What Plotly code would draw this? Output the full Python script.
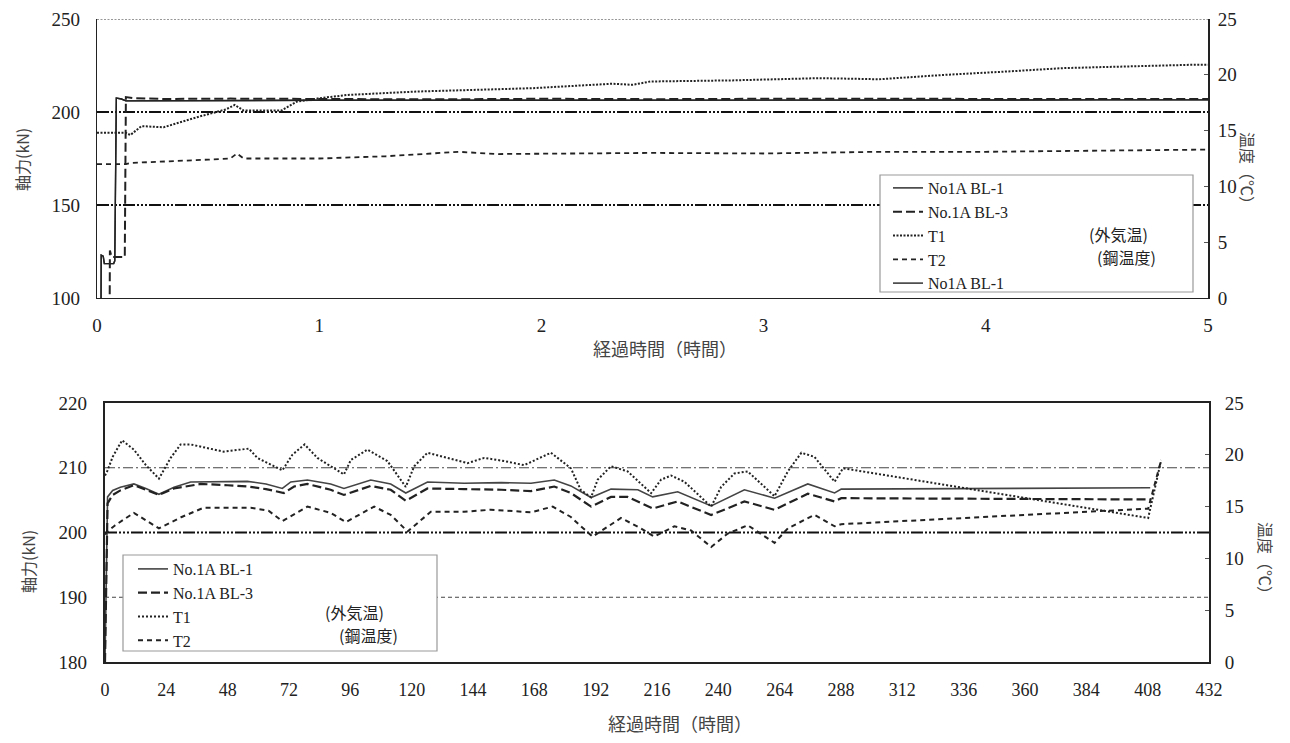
import plotly.graph_objects as go

# ---------------- data: top chart (0-5 h) ----------------
top_t_bl1 = [0.018, 0.019, 0.028, 0.033, 0.075, 0.080, 0.087, 0.11, 0.13, 0.5, 1.0, 1.5, 2.0, 2.5, 3.0, 3.5, 4.0, 4.5, 5.0]
top_bl1 = [95, 123, 122.5, 118.5, 118.5, 120, 207.5, 207.0, 206.0, 206.2, 206.3, 206.3, 206.4, 206.3, 206.4, 206.5, 206.4, 206.5, 206.5]

top_t_bl3 = [0.057, 0.058, 0.066, 0.125, 0.130, 0.16, 0.3, 0.6, 1.0, 1.5, 2.0, 2.5, 3.0, 3.5, 4.0, 4.5, 5.0]
top_bl3 = [95, 125.5, 122, 122, 208, 207.5, 207.0, 207.2, 207.0, 206.8, 207.1, 206.9, 207.1, 207.0, 206.9, 207.0, 207.0]

top_t_t1 = [0, 0.13, 0.15, 0.2, 0.3, 0.45, 0.58, 0.62, 0.66, 0.83, 0.9, 1.0, 1.13, 1.44, 1.96, 2.32, 2.41, 2.49, 2.86, 3.25, 3.52, 3.82, 4.1, 4.35, 4.93, 5.0]
top_t1 = [14.8, 14.8, 14.6, 15.4, 15.3, 16.2, 16.9, 17.3, 16.8, 16.8, 17.6, 17.9, 18.2, 18.5, 18.8, 19.2, 19.1, 19.4, 19.5, 19.7, 19.6, 20.0, 20.3, 20.6, 20.9, 20.9]

top_t_t2 = [0, 0.13, 0.15, 0.3, 0.5, 0.6, 0.63, 0.66, 0.8, 1.0, 1.3, 1.63, 1.8, 2.2, 2.5, 3.0, 3.25, 3.52, 4.0, 4.5, 5.0]
top_t2 = [12.0, 12.0, 12.1, 12.2, 12.4, 12.5, 12.95, 12.5, 12.5, 12.5, 12.7, 13.1, 12.9, 12.95, 13.0, 12.95, 13.0, 13.1, 13.1, 13.2, 13.3]

# ---------------- data: bottom chart (0-432 h) ----------------
bot_t_bl1 = [0, 1, 3, 6, 11.3, 16, 21.1, 27, 33.5, 45, 55.7, 63, 69.4, 72.7, 79.2, 88.3, 93.5, 104, 111.8, 117.7,
             126.2, 140.5, 155, 166.7, 175.8, 182.3, 190.2, 198, 208.5, 214.3, 224.1, 237.2, 250.2, 262, 275, 285.5, 288.1, 409]
bot_bl1 = [180, 205.5, 206.5, 207.0, 207.5, 206.8, 205.9, 207.0, 207.8, 207.9, 207.9, 207.5, 206.8, 207.8, 208.1, 207.5, 206.8, 208.1, 207.5, 206.1,
           207.8, 207.6, 207.7, 207.6, 208.1, 207.2, 205.4, 206.7, 206.6, 205.5, 206.3, 204.1, 206.6, 205.3, 207.5, 206.1, 206.7, 206.9]

bot_t_bl3 = [0, 1, 3, 6, 11.3, 16, 21.1, 27, 37.4, 48, 55.7, 63, 70, 74, 79.2, 88.3, 93.5, 104, 111.8, 117.7,
             126.2, 140.5, 155, 166.7, 175.8, 182.3, 190.2, 198, 204.5, 214.3, 224.1, 237.2, 250.2, 262, 275, 285.5, 288.1, 409]
bot_bl3 = [180, 204.5, 205.8, 206.5, 207.3, 206.6, 205.8, 206.8, 207.5, 207.3, 207.1, 206.7, 206.1, 207.1, 207.5, 206.6, 205.8, 207.2, 206.6, 204.9,
           206.8, 206.7, 206.6, 206.4, 207.1, 206.1, 204.0, 205.5, 205.5, 203.7, 204.8, 202.7, 204.8, 203.5, 206.0, 204.8, 205.3, 205.1]

bot_t_t1 = [0, 1, 3, 6.7, 11.3, 16, 21.1, 25.7, 29.6, 33.5, 46.5, 56.3, 59.6, 69.4, 73.3, 78.1, 83.1, 88.3, 93.5, 96.2,
            102.7, 110.5, 117.7, 121, 126.2, 134, 141.9, 148.4, 156.2, 164, 174.5, 182.3, 186.2, 190.2, 192.8, 198, 204.5, 213.7,
            217.6, 221.5, 226.7, 237.2, 241.1, 246.3, 251.5, 262, 267.2, 272.5, 277.6, 285.5, 288.8, 408.2, 413.3]
bot_t1 = [18.0, 18.5, 19.8, 21.4, 20.5, 19.0, 17.7, 19.7, 21.0, 21.0, 20.3, 20.6, 19.7, 18.5, 20.0, 21.0, 19.7, 18.9, 18.1, 19.5,
          20.5, 19.4, 16.9, 18.9, 20.2, 19.7, 19.2, 19.7, 19.4, 19.0, 20.2, 18.7, 16.6, 15.9, 17.6, 18.9, 18.4, 16.3,
          17.6, 18.0, 17.4, 15.0, 16.9, 18.2, 18.4, 16.0, 18.4, 20.2, 19.8, 17.4, 18.7, 13.9, 19.5]

bot_t_t2 = [0, 1, 4, 11.3, 21.1, 30, 38.7, 57, 64, 69.4, 79.2, 88.3, 94.2, 105.3, 111.8, 118.4, 127.5, 140.5, 151, 166.7,
            175.2, 182.3, 186.2, 190.8, 201.9, 209.7, 214.9, 222.8, 229.3, 237.2, 243.7, 251.5, 262, 267.2, 277.6, 285.5, 288.1, 408.2, 413.3]
bot_t2 = [12.3, 12.6, 13.2, 14.4, 12.9, 14.0, 14.9, 14.9, 14.6, 13.6, 15.0, 14.4, 13.5, 15.0, 14.2, 12.6, 14.5, 14.5, 14.7, 14.45,
          15.0, 14.0, 13.1, 12.1, 13.9, 12.9, 12.1, 13.1, 12.7, 11.1, 12.4, 13.2, 11.5, 12.9, 14.2, 13.1, 13.3, 14.8, 19.5]

# labels
top_names = ["No1A BL-1", "No.1A BL-3", "T1", "T2", "No1A BL-1"]
bot_names = ["No.1A BL-1", "No.1A BL-3", "T1", "T2"]
note_labels = ["(外気温)", "(鋼温度)"]
x_title = "経過時間（時間）"
y_left_title = "軸力(kN)"
y_right_title = "温度（℃）"
top_grid_levels = [150, 200, 250]
bot_grid_levels = [190, 200, 210]

# ---------------- styling ----------------
W, H = 1290, 743
OFF = 8  # page body margin offset
SERIF = "Liberation Serif, Times New Roman, serif"
CJK = "Noto Sans CJK JP"
DDOT = "12px,2px,2px,2px,2px,2px,2px,2px"
top_grid_styles = [dict(dash=DDOT, width=2.2, color="#111"),
                   dict(dash=DDOT, width=2.2, color="#111"),
                   dict(dash="2px,1.5px", width=1.2, color="#333")]
bot_grid_styles = [dict(dash="4px,3px", width=1, color="#444"),
                   dict(dash=DDOT, width=2.2, color="#111"),
                   dict(dash="10px,3px,2px,3px", width=1, color="#444")]


def px(x):
    return (x - OFF) / W


def py(y):
    return 1 - (y - OFF) / H


fig = go.Figure()

# top chart traces
fig.add_trace(go.Scatter(x=top_t_bl1, y=top_bl1, name=top_names[0], mode="lines",
                         line=dict(color="#222", width=1.4), xaxis="x", yaxis="y", legend="legend"))
fig.add_trace(go.Scatter(x=top_t_bl3, y=top_bl3, name=top_names[1], mode="lines",
                         line=dict(color="#222", width=2, dash="9px,4px"), xaxis="x", yaxis="y", legend="legend"))
fig.add_trace(go.Scatter(x=top_t_t1, y=top_t1, name=top_names[2], mode="lines",
                         line=dict(color="#222", width=2, dash="2px,1.5px"), xaxis="x", yaxis="y2", legend="legend"))
fig.add_trace(go.Scatter(x=top_t_t2, y=top_t2, name=top_names[3], mode="lines",
                         line=dict(color="#222", width=1.8, dash="5px,4px"), xaxis="x", yaxis="y2", legend="legend"))
fig.add_trace(go.Scatter(x=top_t_bl1, y=top_bl1, name=top_names[4], mode="lines",
                         line=dict(color="#222", width=1.4), xaxis="x", yaxis="y", legend="legend"))

# bottom chart traces
fig.add_trace(go.Scatter(x=bot_t_bl1, y=bot_bl1, name=bot_names[0], mode="lines",
                         line=dict(color="#444", width=1.6), xaxis="x2", yaxis="y3", legend="legend2"))
fig.add_trace(go.Scatter(x=bot_t_bl3, y=bot_bl3, name=bot_names[1], mode="lines",
                         line=dict(color="#222", width=2.2, dash="9px,4px"), xaxis="x2", yaxis="y3", legend="legend2"))
fig.add_trace(go.Scatter(x=bot_t_t1, y=bot_t1, name=bot_names[2], mode="lines",
                         line=dict(color="#222", width=2, dash="2px,2px"), xaxis="x2", yaxis="y4", legend="legend2"))
fig.add_trace(go.Scatter(x=bot_t_t2, y=bot_t2, name=bot_names[3], mode="lines",
                         line=dict(color="#222", width=2, dash="5px,4px"), xaxis="x2", yaxis="y4", legend="legend2"))

shapes = []
for lvl, st in zip(top_grid_levels, top_grid_styles):
    shapes.append(dict(type="line", xref="x domain", yref="y", x0=0, x1=1, y0=lvl, y1=lvl,
                       line=st, layer="below"))
for lvl, st in zip(bot_grid_levels, bot_grid_styles):
    shapes.append(dict(type="line", xref="x2 domain", yref="y3", x0=0, x1=1, y0=lvl, y1=lvl,
                       line=st, layer="below"))
# legend boxes
shapes.append(dict(type="rect", xref="paper", yref="paper", x0=px(880), x1=px(1193), y0=py(292), y1=py(175),
                   line=dict(color="#999", width=1.2), fillcolor="white", layer="below"))
shapes.append(dict(type="rect", xref="paper", yref="paper", x0=px(123), x1=px(437), y0=py(651), y1=py(555),
                   line=dict(color="#999", width=1.2), fillcolor="white", layer="below"))

tickfont = dict(family=SERIF, size=19, color="#222")
axis_common = dict(showgrid=False, zeroline=False, showline=True, linecolor="#222", automargin=False)


def note(text, x, y, size, color, angle=0):
    return dict(text=text, x=px(x), y=py(y), xref="paper", yref="paper", showarrow=False,
                xanchor="center", yanchor="middle", textangle=angle,
                font=dict(family=CJK, size=size, color=color))


annotations = [
    note(x_title, 665, 348, 18, "#444"),
    note(x_title, 680, 723, 18, "#444"),
    note(y_left_title, 22, 160, 16, "#444", -90),
    note(y_left_title, 28, 562, 16, "#444", -90),
    note(y_right_title, 1248, 172, 16, "#444", 90),
    note(y_right_title, 1266, 562, 16, "#444", 90),
    note(note_labels[0], 1118, 234, 16, "#222"),
    note(note_labels[1], 1126, 257, 16, "#222"),
    note(note_labels[0], 354, 612, 16, "#222"),
    note(note_labels[1], 369, 635, 16, "#222"),
]

fig.update_layout(
    width=W, height=H,
    margin=dict(l=0, r=0, t=0, b=0),
    paper_bgcolor="white", plot_bgcolor="white",
    showlegend=True,
    xaxis=dict(domain=[px(97), px(1208)], anchor="y", range=[0, 5], dtick=1, linewidth=1.3,
               ticks="", ticklabelstandoff=10, tickfont=tickfont, **axis_common),
    yaxis=dict(domain=[py(298), py(19)], anchor="x", range=[100, 250], dtick=50, linewidth=1.3,
               ticks="", ticklabelstandoff=12, tickfont=tickfont, **axis_common),
    yaxis2=dict(overlaying="y", side="right", anchor="x", range=[0, 25], dtick=5, linewidth=2,
                ticks="inside", ticklen=4, tickcolor="#555", ticklabelstandoff=4, tickfont=tickfont, **axis_common),
    xaxis2=dict(domain=[px(105), px(1209)], anchor="y3", range=[0, 432], dtick=24, linewidth=2, mirror=True,
                ticks="", ticklabelstandoff=10, tickfont=dict(family=SERIF, size=18, color="#222"), **axis_common),
    yaxis3=dict(domain=[py(662), py(403)], anchor="x2", range=[180, 220], dtick=10, linewidth=2.2,
                ticks="", ticklabelstandoff=12, tickfont=tickfont, **axis_common),
    yaxis4=dict(overlaying="y3", side="right", anchor="x2", range=[0, 25], dtick=5, linewidth=2,
                ticks="inside", ticklen=4, tickcolor="#555", ticklabelstandoff=10, tickfont=tickfont, **axis_common),
    legend=dict(x=px(888), y=py(171), xanchor="left", yanchor="top", bgcolor="rgba(0,0,0,0)",
                borderwidth=0, font=dict(family=SERIF, size=16, color="#222"), tracegroupgap=0,
                itemwidth=30),
    legend2=dict(x=px(133), y=py(552), xanchor="left", yanchor="top", bgcolor="rgba(0,0,0,0)",
                 borderwidth=0, font=dict(family=SERIF, size=16, color="#222"), tracegroupgap=0,
                 itemwidth=30),
    shapes=shapes,
    annotations=annotations,
)

fig.write_html("out.html")
